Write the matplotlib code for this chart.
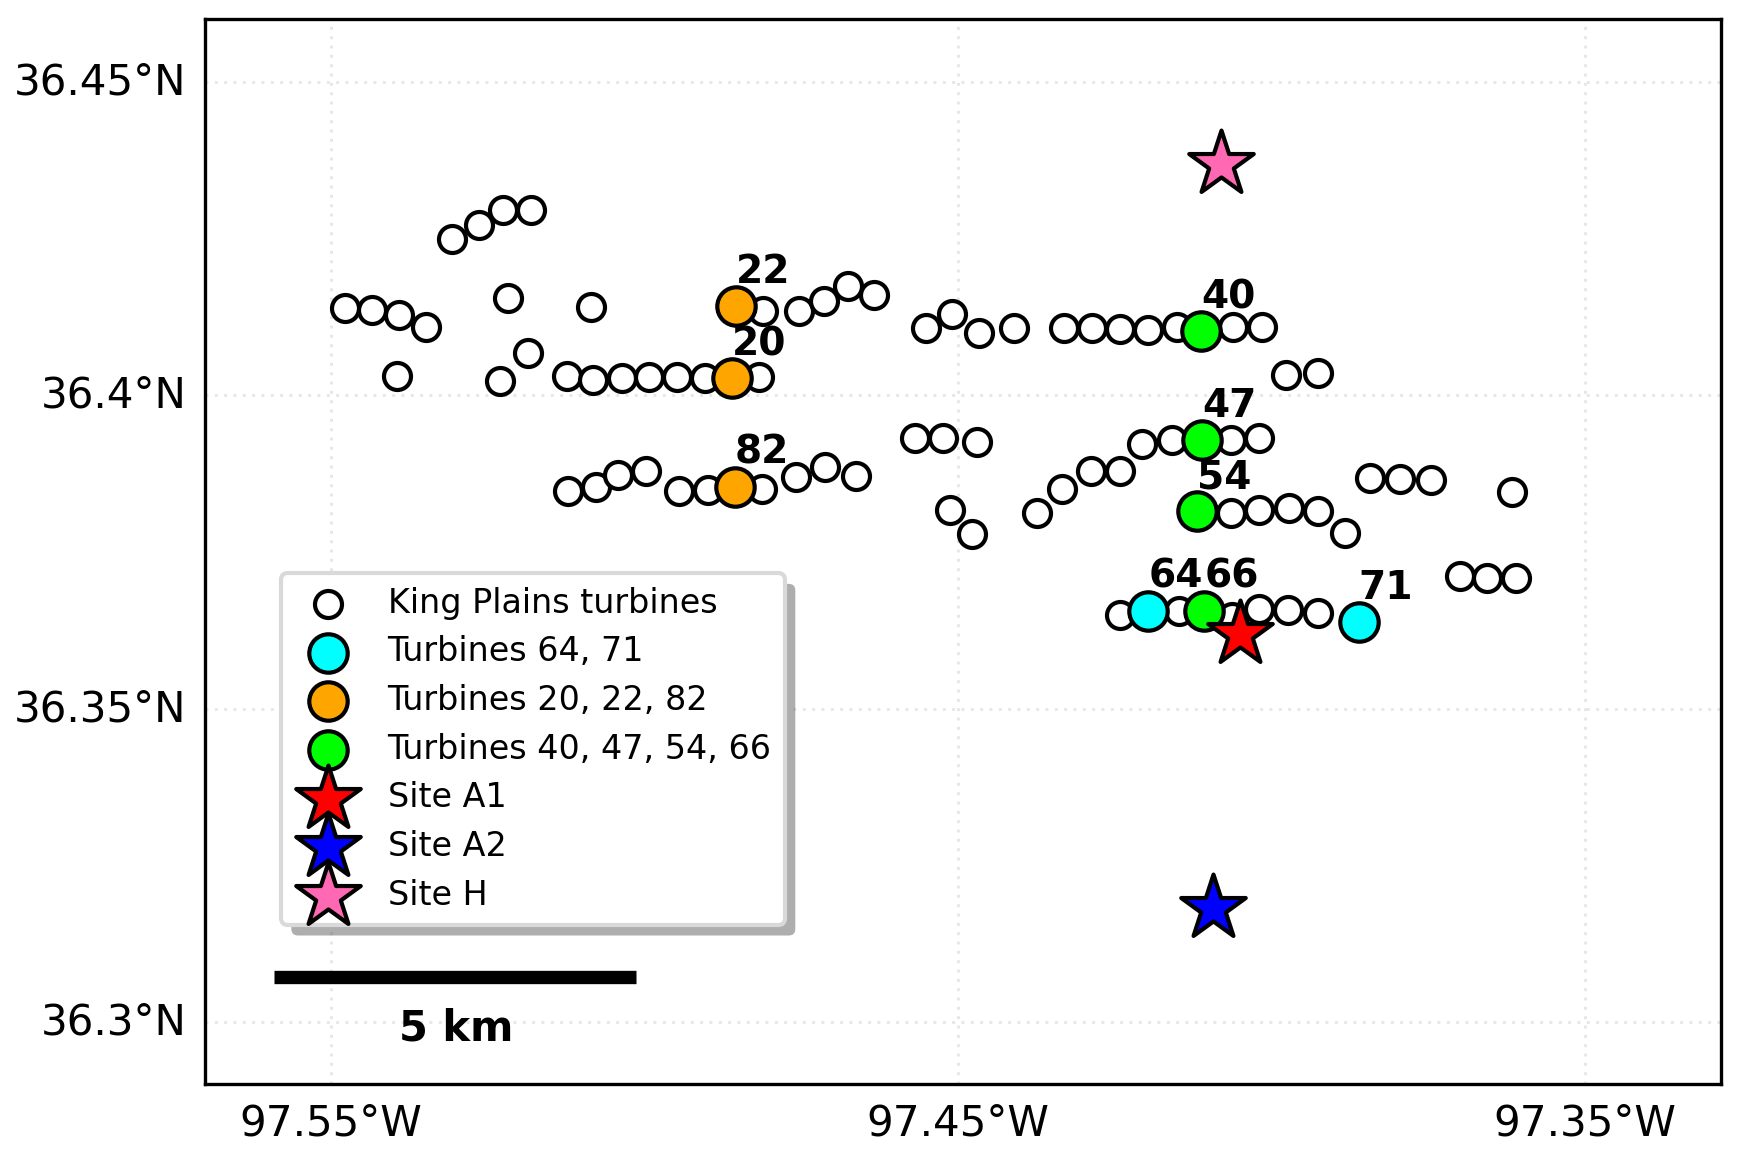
import matplotlib
matplotlib.use("Agg")
import matplotlib.pyplot as plt
from matplotlib.transforms import ScaledTranslation

# King Plains turbines, lon/lat
lons = [-97.5307,-97.5264,-97.5225,-97.5181,
        -97.5477,-97.5434,-97.5392,-97.5348,
        -97.5218,-97.5085,-97.5185,-97.5395,-97.5231,
        -97.5124,-97.5082,-97.5036,-97.4992,-97.4948,-97.4903,-97.4817,
        -97.4810,-97.4753,-97.4714,-97.4675,-97.4634,
        -97.4551,-97.4509,-97.4466,-97.4411,
        -97.4330,-97.4286,-97.4242,-97.4196,-97.4151,-97.4061,-97.4015,
        -97.3976,-97.3926,
        -97.4569,-97.4523,-97.4470,
        -97.4206,-97.4158,-97.4065,-97.4019,
        -97.5121,-97.5077,-97.5042,-97.4997,-97.4944,-97.4898,-97.4813,-97.4758,-97.4712,-97.4663,
        -97.4512,-97.4477,-97.4374,-97.4334,-97.4288,-97.4242,
        -97.4065,-97.4019,-97.3972,-97.3926,-97.3882,
        -97.3843,-97.3795,-97.3746,-97.3617,
        -97.3700,-97.3656,-97.3610,
        -97.4242,-97.4148,-97.4063,-97.4019,-97.3974,-97.3926]
lats = [36.4249,36.4272,36.4295,36.4295,
        36.4139,36.4136,36.4128,36.4109,
        36.4155,36.4141,36.4067,36.4031,36.4022,
        36.4031,36.4024,36.4027,36.4029,36.4029,36.4027,36.4029,
        36.4134,36.4134,36.4150,36.4174,36.4160,
        36.4107,36.4130,36.4100,36.4107,
        36.4107,36.4107,36.4105,36.4104,36.4109,36.4109,36.4109,
        36.4033,36.4036,
        36.3932,36.3932,36.3925,
        36.3923,36.3928,36.3928,36.3932,
        36.3847,36.3854,36.3873,36.3879,36.3847,36.3849,36.3850,36.3870,36.3886,36.3872,
        36.3817,36.3778,36.3813,36.3850,36.3879,36.3880,
        36.3813,36.3817,36.3820,36.3815,36.3781,
        36.3868,36.3866,36.3865,36.3845,
        36.3711,36.3709,36.3709,
        36.3649,36.3656,36.3647,36.3659,36.3657,36.3652]

cyan_ids = ["64", "71"]
cyan_lons = [-97.4196, -97.3861]
cyan_lats = [36.3656, 36.3638]

orange_ids = ["20", "22", "82"]
orange_lons = [-97.4861, -97.4854, -97.4856]
orange_lats = [36.4027, 36.4142, 36.3854]

green_ids = ["40", "47", "54", "66"]
green_lons = [-97.4112, -97.4111, -97.4119, -97.4107]
green_lats = [36.4102, 36.3928, 36.3815, 36.3656]

site_names = ["Site A1", "Site A2", "Site H"]
site_colors = ["red", "blue", "hotpink"]
site_lons = [-97.4050, -97.4093, -97.4080]
site_lats = [36.3619, 36.3183, 36.4369]

x_ticks = [-97.55, -97.45, -97.35]
x_labels = ["97.55°W", "97.45°W", "97.35°W"]
y_ticks = [36.30, 36.35, 36.40, 36.45]
y_labels = ["36.3°N", "36.35°N", "36.4°N", "36.45°N"]

fig = plt.figure(figsize=(1741/300, 1155/300), dpi=300)
ax = fig.add_axes([0.118, 0.0617, 0.8705, 0.9218])

ax.scatter(lons, lats, s=42, c="white", edgecolors="k", linewidths=1, zorder=3, label="King Plains turbines")
ax.scatter(cyan_lons, cyan_lats, s=85, c="cyan", edgecolors="k", linewidths=1, zorder=4, label="Turbines 64, 71")
ax.scatter(orange_lons, orange_lats, s=85, c="orange", edgecolors="k", linewidths=1, zorder=4, label="Turbines 20, 22, 82")
ax.scatter(green_lons, green_lats, s=85, c="lime", edgecolors="k", linewidths=1, zorder=4, label="Turbines 40, 47, 54, 66")
for i in range(3):
    ax.scatter(site_lons[i], site_lats[i], s=265, marker="*", c=site_colors[i], edgecolors="k",
               linewidths=1, zorder=5, label=site_names[i])

# turbine numbers sit up and to the right of each marker
for ids, xs, ys in [(cyan_ids, cyan_lons, cyan_lats), (orange_ids, orange_lons, orange_lats),
                    (green_ids, green_lons, green_lats)]:
    for t, x, y in zip(ids, xs, ys):
        ax.annotate(t, (x, y), xytext=(6.6, 8.2), textcoords="offset points", ha="center", va="center",
                    fontsize=9.4, fontweight="bold", zorder=6)

# scale bar
ax.plot([-97.5590, -97.5013], [36.3072, 36.3072], color="k", lw=3.2, solid_capstyle="butt", zorder=3)
ax.text(-97.5300, 36.2990, "5 km", ha="center", va="center", fontsize=10, fontweight="bold")

ax.set_xlim(-97.57, -97.3283)
ax.set_ylim(36.2902, 36.46)
ax.set_xticks(x_ticks)
ax.set_xticklabels(x_labels)
ax.set_yticks(y_ticks)
ax.set_yticklabels(y_labels)
ax.tick_params(length=0, labelsize=10.1, pad=4.6)
ax.grid(color="lightgray", ls=(0, (1, 2.2)), lw=0.7, alpha=0.55, zorder=0)
ax.set_axisbelow(True)

# y labels sit a little above their gridlines
up = ScaledTranslation(0, 1.0/72, fig.dpi_scale_trans)
for lab in ax.get_yticklabels():
    lab.set_transform(lab.get_transform() + up)

leg = ax.legend(loc="lower left", bbox_to_anchor=(0.0498, 0.149), borderaxespad=0, fontsize=8,
                borderpad=0.4, labelspacing=0.47, edgecolor="0.85",
                shadow={"ox": 2.5, "oy": -2.5, "alpha": 0.45, "edgecolor": "none"},
                fancybox=True, framealpha=1, scatterpoints=1)
leg.set_zorder(7)

fig.savefig("out.png", dpi=300)
